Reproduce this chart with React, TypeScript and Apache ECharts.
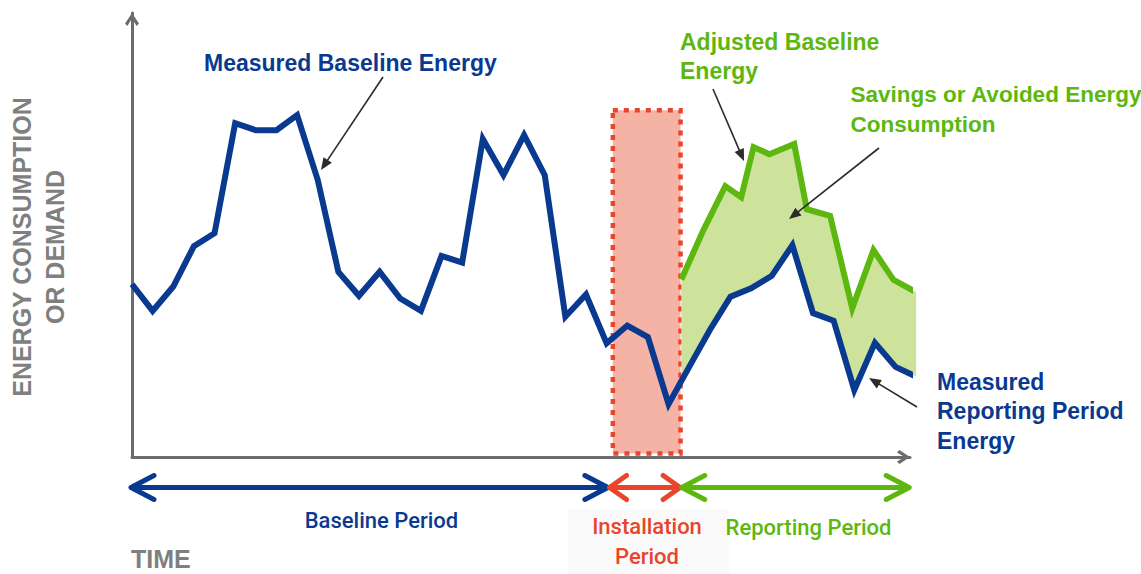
import React, { useEffect, useRef } from "react";
import * as echarts from "echarts";

// Measured energy (baseline + reporting), one value per time step
const MEASURED = [
  38.9, 32.9, 38.4, 47.5, 50.4, 75.2, 73.6, 73.6, 77.0, 62.4,
  41.7, 36.3, 41.7, 35.7, 32.9, 45.3, 43.8, 71.6, 63.5, 72.5,
  63.5, 31.6, 36.6, 25.6, 29.6, 27.0, 11.9, 20.3, 28.6, 36.1,
  38.0, 40.8, 47.7, 32.4, 30.7, 15.1, 25.7, 20.3, 18.1,
];
const MEASURED_T = MEASURED.map((_, i) => i);

// Adjusted baseline energy during the reporting period
const ADJUSTED_T = [26.62, 27.69, 28.75, 29.52, 30.12, 30.89, 32.09, 32.7, 33.83, 34.9, 35.93, 36.9, 38.0];
const ADJUSTED = [40.0, 51.1, 61.0, 58.5, 69.8, 68.2, 70.5, 55.8, 54.3, 33.5, 46.6, 39.9, 37.1];

// Periods along the time axis
const PERIOD_NAMES = ["Baseline Period", "Installation\nPeriod", "Reporting Period"];
const PERIOD_BOUNDS = [0, 23.1, 26.6, 37.7];
const INSTALL_BOX_X = [23.3, 26.58];
const INSTALL_BOX_Y = [0.8, 78.1];

const X_MAX = 37.7;
const Y_MAX = 100;

const BLUE = "#0a3a8f";
const GREEN = "#5cb80f";
const RED = "#e8452c";
const GRAY = "#6b6d6c";
const LABEL_GRAY = "#7f7f7f";
const FONT = "'Liberation Sans', Arial, sans-serif";
const FONT2 = "Roboto, 'Liberation Sans', sans-serif";

const CHEVRON = "path://M7,0 L14,10.6 L11.6,13 L7,5.4 L2.4,13 L0,10.6 Z";

function annotArrow(x1: number, y1: number, x2: number, y2: number) {
  const dx = x2 - x1;
  const dy = y2 - y1;
  const L = Math.sqrt(dx * dx + dy * dy);
  const ux = dx / L;
  const uy = dy / L;
  const len = 12;
  const hw = 5;
  const bx = x2 - ux * len;
  const by = y2 - uy * len;
  return [
    {
      type: "line",
      shape: { x1, y1, x2: bx + ux * 2, y2: by + uy * 2 },
      style: { stroke: "#2b2b2b", lineWidth: 1.6 },
      z: 10,
    },
    {
      type: "polygon",
      shape: {
        points: [
          [x2, y2],
          [bx - uy * hw, by + ux * hw],
          [bx + uy * hw, by - ux * hw],
        ],
      },
      style: { fill: "#2b2b2b" },
      z: 10,
    },
  ];
}

function textEl(
  text: string,
  x: number,
  y: number,
  color: string,
  size: number,
  weight: string | number,
  align = "left",
  family = FONT
) {
  return {
    type: "text",
    x,
    y,
    z: 20,
    style: {
      text,
      fill: color,
      fontSize: size,
      fontWeight: weight,
      fontFamily: family,
      align,
      verticalAlign: "middle",
      lineHeight: 29.5,
    },
  };
}

export default function App() {
  const ref = useRef<HTMLDivElement>(null);

  useEffect(() => {
    document.body.style.margin = "0";
    if (!ref.current) return;
    const chart = echarts.init(ref.current, null, { renderer: "svg" });

    const axisCommon = {
      type: "value",
      axisTick: { show: false },
      axisLabel: { show: false },
      splitLine: { show: false },
      axisLine: {
        show: true,
        symbol: ["none", CHEVRON],
        symbolSize: [14, 13],
        symbolOffset: [0, -6.5],
        lineStyle: { color: GRAY, width: 3 },
      },
    };

    chart.setOption({
      animation: false,
      backgroundColor: "#ffffff",
      grid: { left: 132, top: 13, width: 778, height: 444 },
      xAxis: { ...axisCommon, min: 0, max: X_MAX },
      yAxis: { ...axisCommon, min: 0, max: Y_MAX },
      series: [
        {
          type: "custom",
          name: "Savings",
          z: 1,
          data: [[0, 0]],
          silent: true,
          renderItem: (_params: any, api: any) => {
            const pts: number[][] = [];
            ADJUSTED_T.forEach((t, i) => pts.push(api.coord([t, ADJUSTED[i]])));
            const t0 = ADJUSTED_T[0];
            const t1 = ADJUSTED_T[ADJUSTED_T.length - 1];
            for (let i = MEASURED.length - 1; i >= 0; i--) {
              if (MEASURED_T[i] > t0 && MEASURED_T[i] <= t1) pts.push(api.coord([MEASURED_T[i], MEASURED[i]]));
            }
            const i0 = Math.floor(t0);
            const f = t0 - i0;
            pts.push(api.coord([t0, MEASURED[i0] + f * (MEASURED[i0 + 1] - MEASURED[i0])]));
            return { type: "polygon", shape: { points: pts }, style: { fill: "#cde39b" } };
          },
        },
        {
          type: "line",
          name: "Adjusted Baseline Energy",
          z: 3,
          clip: false,
          symbol: "none",
          data: ADJUSTED_T.map((t, i) => [t, ADJUSTED[i]]),
          lineStyle: { color: GREEN, width: 6, join: "miter" },
        },
        {
          type: "line",
          name: "Measured Energy",
          z: 4,
          clip: false,
          symbol: "none",
          data: MEASURED_T.map((t, i) => [t, MEASURED[i]]),
          lineStyle: { color: BLUE, width: 6, join: "miter" },
          markArea: {
            silent: true,
            z: 0,
            itemStyle: {
              color: "#f5b3a6",
              borderColor: RED,
              borderWidth: 4.5,
              borderType: [5, 6],
            },
            data: [
              [
                { coord: [INSTALL_BOX_X[0], INSTALL_BOX_Y[1]] },
                { coord: [INSTALL_BOX_X[1], INSTALL_BOX_Y[0]] },
              ],
            ],
          },
        },
      ],
    });

    // Period arrows, positioned through the axis scale
    const arrowY = 487.5;
    const colors = [BLUE, RED, GREEN];
    const gap = 0.8;
    const periodEls: any[] = [];
    for (let i = 0; i < PERIOD_NAMES.length; i++) {
      const a = chart.convertToPixel({ gridIndex: 0 }, [PERIOD_BOUNDS[i], 0]) as number[];
      const b = chart.convertToPixel({ gridIndex: 0 }, [PERIOD_BOUNDS[i + 1], 0]) as number[];
      const xs = i === 0 ? a[0] - 1 : a[0] + gap;
      const xe = b[0] - gap;
      const len = i === 1 ? 17 : 23;
      const hw = 12;
      const st = { stroke: colors[i], lineWidth: 5, lineCap: "round", lineJoin: "round", fill: "none" };
      periodEls.push({ type: "line", z: 15, shape: { x1: xs + 2, y1: arrowY, x2: xe - 2, y2: arrowY }, style: { ...st, lineCap: "butt" } });
      periodEls.push({ type: "polyline", z: 15, shape: { points: [[xs + len, arrowY - hw], [xs, arrowY], [xs + len, arrowY + hw]] }, style: st });
      periodEls.push({ type: "polyline", z: 15, shape: { points: [[xe - len, arrowY - hw], [xe, arrowY], [xe - len, arrowY + hw]] }, style: st });
    }

    chart.setOption({
      graphic: [
        { type: "rect", z: 5, shape: { x: 568, y: 509, width: 161, height: 66 }, style: { fill: "#fafafa" } },
        ...periodEls,
        textEl(PERIOD_NAMES[0], 381.5, 520, BLUE, 22, 500, "center", FONT2),
        textEl(PERIOD_NAMES[1], 647, 541.5, RED, 22, 500, "center", FONT2),
        textEl(PERIOD_NAMES[2], 808.5, 527, GREEN, 22, 500, "center", FONT2),
        textEl("Measured Baseline Energy", 204, 63, BLUE, 23, "bold"),
        textEl("Adjusted Baseline\nEnergy", 680, 56.5, GREEN, 23, "bold"),
        textEl("Savings or Avoided Energy\nConsumption", 850.5, 109.5, GREEN, 22.5, "bold"),
        textEl("Measured\nReporting Period\nEnergy", 937, 411, BLUE, 23, "bold"),
        textEl("TIME", 131, 559, LABEL_GRAY, 25, "bold"),
        {
          type: "text",
          x: 22,
          y: 247,
          rotation: Math.PI / 2,
          z: 20,
          style: { text: "ENERGY CONSUMPTION", fill: LABEL_GRAY, fontSize: 25, fontWeight: "bold", fontFamily: FONT, align: "center", verticalAlign: "middle" },
        },
        {
          type: "text",
          x: 55,
          y: 247,
          rotation: Math.PI / 2,
          z: 20,
          style: { text: "OR DEMAND", fill: LABEL_GRAY, fontSize: 25, fontWeight: "bold", fontFamily: FONT, align: "center", verticalAlign: "middle" },
        },
        ...annotArrow(383, 77, 321, 170),
        ...annotArrow(713, 89, 744, 161),
        ...annotArrow(879, 148, 789, 219),
        ...annotArrow(917, 407, 869, 378),
      ],
    });

    return () => chart.dispose();
  }, []);

  return <div ref={ref} style={{ width: 1141, height: 574 }} />;
}
